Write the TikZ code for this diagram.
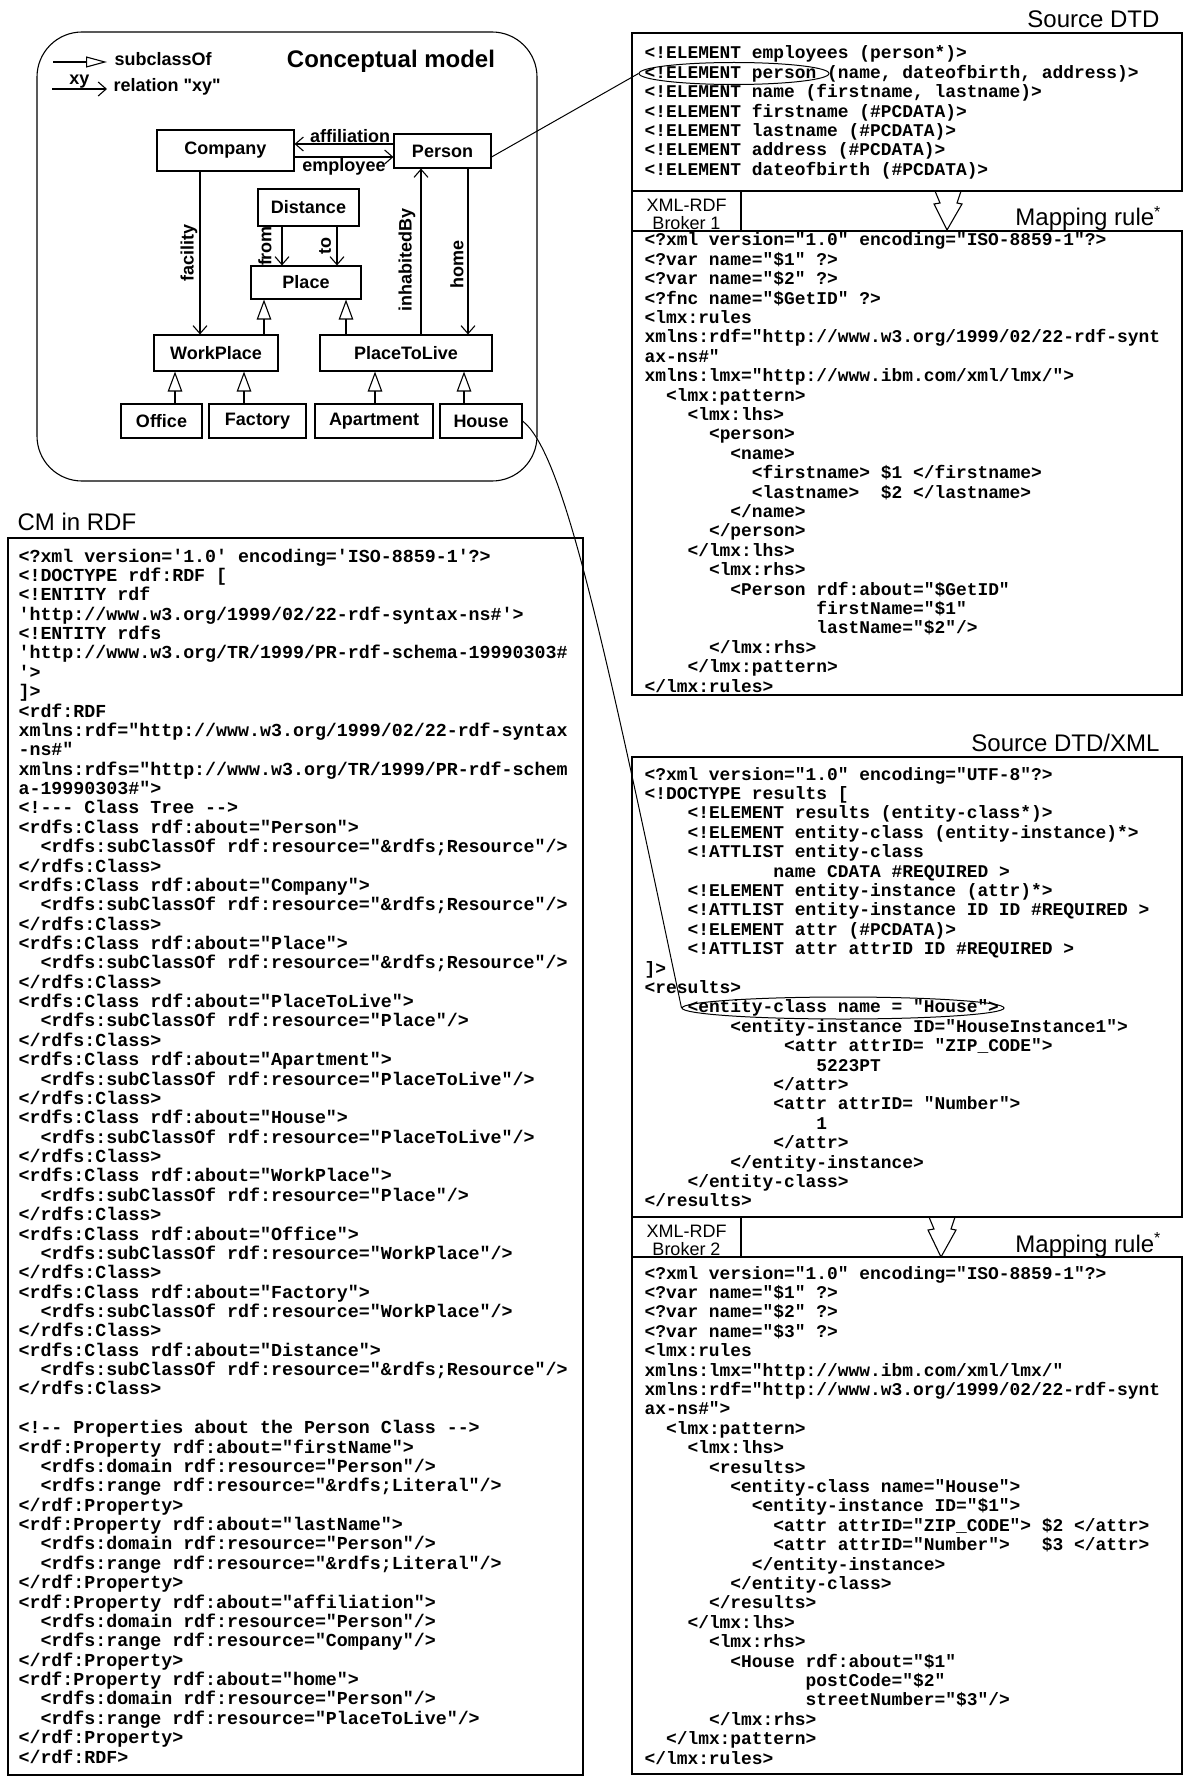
\documentclass[tikz,border=0pt]{standalone}
\usepackage{fontspec}
\setmainfont{Liberation Sans}
\newfontfamily\xmlfont{Liberation Mono}[Ligatures=TeXOff]
\usetikzlibrary{arrows.meta,shapes.geometric}
\newcommand{\ind}[1]{\hspace*{#1\fontdimen2\font}}

\begin{document}
\begin{tikzpicture}
[
  x=1pt, y=-1pt,
  line width=1.1pt,
	cls/.style={draw,inner sep=0,font=\bfseries\fontsize{18}{20}\selectfont},
	lbl/.style={inner sep=0,font=\bfseries\fontsize{18}{20}\selectfont},
	ttl/.style={inner sep=0,font=\fontsize{24}{28}\selectfont},
	code/.style={inner sep=0,align=left,anchor=base west,font=\xmlfont\bfseries\fontsize{17.9}{19.4}\selectfont},
	broker/.style={inner sep=0,align=center,font=\fontsize{18}{18}\selectfont},
	circ/.style={draw,ellipse,inner sep=0,line width=1pt},
	rel/.style={-{Straight Barb[length=8pt,width=14pt]}},
	sub/.style={-{Triangle[open,length=20pt,width=14.5pt]}}
]
\useasboundingbox (0,0) rectangle (1184,1787);

\draw[rounded corners=45] (37,32) rectangle (537,481);
\node[ttl,font=\bfseries\fontsize{24}{28}\selectfont] (cmtitle) at(391,61) {Conceptual model};

\coordinate (lgsubA) at (53,62);
\coordinate (lgsubB) at (107,62);
\coordinate (lgrelA) at (52,89);
\coordinate (lgrelB) at (107,89);
\draw[-{Triangle[open,length=21pt,width=11pt]}] (lgsubA) -- (lgsubB);
\node[lbl,anchor=west] (lgsub) at(114,59) {subclassOf};
\draw[rel] (lgrelA) -- (lgrelB) node[lbl,midway,above=0pt] (lgxy) {xy};
\node[lbl,anchor=west] (lgrel) at(113,87) {relation \textquotedbl xy\textquotedbl};

\node[cls,minimum width=137,minimum height=41] (Company) at(225.5,150.5) {Company};
\node[cls,minimum width=97,minimum height=34] (Person) at(442.5,151) {Person};
\node[cls,minimum width=101,minimum height=37] (Distance) at(308.5,207.5) {Distance};
\node[cls,minimum width=110,minimum height=33] (Place) at(306,282.5) {Place};
\node[cls,minimum width=124,minimum height=36] (WorkPlace) at(216,353) {WorkPlace};
\node[cls,minimum width=172,minimum height=36] (PlaceToLive) at(406,353) {PlaceToLive};
\node[cls,minimum width=81,minimum height=34] (Office) at(161.5,421) {Office};
\node[cls,minimum width=97,minimum height=34] (Factory) at(257.5,421) {Factory};
\node[cls,minimum width=118,minimum height=34] (Apartment) at(374,421) {Apartment};
\node[cls,minimum width=82,minimum height=34] (House) at(481,421) {House};

\draw[rel] ([yshift=7]Person.west) -- ([yshift=7]Person.west -| Company.east) node[lbl,midway,above=1pt,xshift=6] {affiliation};
\draw[rel] ([yshift=-6.5]Company.east) -- ([yshift=-6.5]Company.east -| Person.west) node[lbl,midway,below=1pt] {employee};
\draw[rel] ([xshift=-25.5]Company.south) -- ([xshift=-25.5]Company.south |- WorkPlace.north) node[lbl,midway,xshift=-11,rotate=90] {facility};
\draw[rel] ([xshift=-26.5]Distance.south) -- ([xshift=-26.5]Distance.south |- Place.north) node[lbl,midway,xshift=-17,rotate=90] {from};
\draw[rel] ([xshift=28.5]Distance.south) -- ([xshift=28.5]Distance.south |- Place.north) node[lbl,midway,xshift=-12,rotate=90] {to};
\draw[rel] ([xshift=15]PlaceToLive.north) -- ([xshift=15]PlaceToLive.north |- Person.south) node[lbl,pos=0.45,xshift=-14,rotate=90] {inhabitedBy};
\draw[rel] ([xshift=25.5]Person.south) -- ([xshift=25.5]Person.south |- PlaceToLive.north) node[lbl,pos=0.58,xshift=-11,rotate=90] {home};

\draw[sub] ([xshift=48]WorkPlace.north) -- ([xshift=48]WorkPlace.north |- Place.south);
\draw[sub] ([xshift=-60]PlaceToLive.north) -- ([xshift=-60]PlaceToLive.north |- Place.south);
\draw[sub] ([xshift=13.5]Office.north) -- ([xshift=13.5]Office.north |- WorkPlace.south);
\draw[sub] ([xshift=-13.5]Factory.north) -- ([xshift=-13.5]Factory.north |- WorkPlace.south);
\draw[sub] ([xshift=1]Apartment.north) -- ([xshift=1]Apartment.north |- PlaceToLive.south);
\draw[sub] ([xshift=-17]House.north) -- ([xshift=-17]House.north |- PlaceToLive.south);


\node[ttl,anchor=east] (dtdtitle) at(1160,19) {Source DTD};
\draw (632,33) rectangle (1182,191);
\node[code] (dtd) at(644,175.4) {<!ELEMENT employees (person*)>\\
<!ELEMENT person (name, dateofbirth, address)>\\
<!ELEMENT name (firstname, lastname)>\\
<!ELEMENT firstname (\#PCDATA)>\\
<!ELEMENT lastname (\#PCDATA)>\\
<!ELEMENT address (\#PCDATA)>\\
<!ELEMENT dateofbirth (\#PCDATA)>};
\node[circ,minimum width=190,minimum height=22] (elPerson) at(734,73.5) {};

\draw (632,191) rectangle (741,231);
\node[broker] (broker1) at(686.5,214) {XML-RDF\\Broker 1};
\draw (935,191) -- (940,203) -- (934,204) -- (947,230) -- (962,204) -- (957,203) -- (961,191);
\node[ttl,anchor=base east] (rule1) at(1161,226) {Mapping rule\raisebox{9pt}{\fontsize{16}{16}\selectfont *}};

\draw (632,231) rectangle (1182,695);
\node[code] (map1) at(644,692) {<?xml version="1.0" encoding="ISO-8859-1"?>\\
<?var name="\$1" ?>\\
<?var name="\$2" ?>\\
<?fnc name="\$GetID" ?>\\
<lmx:rules\\
xmlns:rdf="http://www.w3.org/1999/02/22-rdf-synt\\
ax-ns\#"\\
xmlns:lmx="http://www.ibm.com/xml/lmx/">\\
\ind{2}<lmx:pattern>\\
\ind{4}<lmx:lhs>\\
\ind{6}<person>\\
\ind{8}<name>\\
\ind{10}<firstname> \$1 </firstname>\\
\ind{10}<lastname>\ind{2}\$2 </lastname>\\
\ind{8}</name>\\
\ind{6}</person>\\
\ind{4}</lmx:lhs>\\
\ind{6}<lmx:rhs>\\
\ind{8}<Person rdf:about="\$GetID"\\
\ind{16}firstName="\$1"\\
\ind{16}lastName="\$2"/>\\
\ind{6}</lmx:rhs>\\
\ind{4}</lmx:pattern>\\
</lmx:rules>};


\node[ttl,anchor=east] (xmltitle) at(1160,743) {Source DTD/XML};
\draw (632,757) rectangle (1182,1217);
\node[code] (xml) at(644,1206.8) {<?xml version="1.0" encoding="UTF-8"?>\\
<!DOCTYPE results [\\
\ind{4}<!ELEMENT results (entity-class*)>\\
\ind{4}<!ELEMENT entity-class (entity-instance)*>\\
\ind{4}<!ATTLIST entity-class\\
\ind{12}name CDATA \#REQUIRED >\\
\ind{4}<!ELEMENT entity-instance (attr)*>\\
\ind{4}<!ATTLIST entity-instance ID ID \#REQUIRED >\\
\ind{4}<!ELEMENT attr (\#PCDATA)>\\
\ind{4}<!ATTLIST attr attrID ID \#REQUIRED >\\
]>\\
<results>\\
\ind{4}<entity-class name = "House">\\
\ind{8}<entity-instance ID="HouseInstance1">\\
\ind{13}<attr attrID= "ZIP\_CODE">\\
\ind{16}5223PT\\
\ind{12}</attr>\\
\ind{12}<attr attrID= "Number">\\
\ind{16}1\\
\ind{12}</attr>\\
\ind{8}</entity-instance>\\
\ind{4}</entity-class>\\
</results>};
\node[circ,minimum width=322,minimum height=22] (elHouse) at(843,1008) {};

\draw (632,1217) rectangle (741,1257);
\node[broker] (broker2) at(686.5,1240) {XML-RDF\\Broker 2};
\draw (929,1217) -- (934,1229) -- (928,1230) -- (941,1257) -- (956,1230) -- (951,1229) -- (955,1217);
\node[ttl,anchor=base east] (rule2) at(1161,1252) {Mapping rule\raisebox{9pt}{\fontsize{16}{16}\selectfont *}};

\draw (632,1257) rectangle (1182,1774);
\node[code] (map2) at(644,1764) {<?xml version="1.0" encoding="ISO-8859-1"?>\\
<?var name="\$1" ?>\\
<?var name="\$2" ?>\\
<?var name="\$3" ?>\\
<lmx:rules\\
xmlns:lmx="http://www.ibm.com/xml/lmx/"\\
xmlns:rdf="http://www.w3.org/1999/02/22-rdf-synt\\
ax-ns\#">\\
\ind{2}<lmx:pattern>\\
\ind{4}<lmx:lhs>\\
\ind{6}<results>\\
\ind{8}<entity-class name="House">\\
\ind{10}<entity-instance ID="\$1">\\
\ind{12}<attr attrID="ZIP\_CODE"> \$2 </attr>\\
\ind{12}<attr attrID="Number">\ind{3}\$3 </attr>\\
\ind{10}</entity-instance>\\
\ind{8}</entity-class>\\
\ind{6}</results>\\
\ind{4}</lmx:lhs>\\
\ind{6}<lmx:rhs>\\
\ind{8}<House rdf:about="\$1"\\
\ind{15}postCode="\$2"\\
\ind{15}streetNumber="\$3"/>\\
\ind{6}</lmx:rhs>\\
\ind{2}</lmx:pattern>\\
</lmx:rules>};


\node[ttl,anchor=west] (rdftitle) at(17,522) {CM in RDF};
\draw (8,538) rectangle (583,1775);
\node[code,font=\xmlfont\bfseries\fontsize{18.3}{19.37}\selectfont] (rdf) at(18,1763) {<?xml version='1.0' encoding='ISO-8859-1'?>\\
<!DOCTYPE rdf:RDF [\\
<!ENTITY rdf\\
'http://www.w3.org/1999/02/22-rdf-syntax-ns\#'>\\
<!ENTITY rdfs\\
'http://www.w3.org/TR/1999/PR-rdf-schema-19990303\#\\
'>\\
]>\\
<rdf:RDF\\
xmlns:rdf="http://www.w3.org/1999/02/22-rdf-syntax\\
-ns\#"\\
xmlns:rdfs="http://www.w3.org/TR/1999/PR-rdf-schem\\
a-19990303\#">\\
<!--- Class Tree -->\\
<rdfs:Class rdf:about="Person">\\
\ind{2}<rdfs:subClassOf rdf:resource="\&rdfs;Resource"/>\\
</rdfs:Class>\\
<rdfs:Class rdf:about="Company">\\
\ind{2}<rdfs:subClassOf rdf:resource="\&rdfs;Resource"/>\\
</rdfs:Class>\\
<rdfs:Class rdf:about="Place">\\
\ind{2}<rdfs:subClassOf rdf:resource="\&rdfs;Resource"/>\\
</rdfs:Class>\\
<rdfs:Class rdf:about="PlaceToLive">\\
\ind{2}<rdfs:subClassOf rdf:resource="Place"/>\\
</rdfs:Class>\\
<rdfs:Class rdf:about="Apartment">\\
\ind{2}<rdfs:subClassOf rdf:resource="PlaceToLive"/>\\
</rdfs:Class>\\
<rdfs:Class rdf:about="House">\\
\ind{2}<rdfs:subClassOf rdf:resource="PlaceToLive"/>\\
</rdfs:Class>\\
<rdfs:Class rdf:about="WorkPlace">\\
\ind{2}<rdfs:subClassOf rdf:resource="Place"/>\\
</rdfs:Class>\\
<rdfs:Class rdf:about="Office">\\
\ind{2}<rdfs:subClassOf rdf:resource="WorkPlace"/>\\
</rdfs:Class>\\
<rdfs:Class rdf:about="Factory">\\
\ind{2}<rdfs:subClassOf rdf:resource="WorkPlace"/>\\
</rdfs:Class>\\
<rdfs:Class rdf:about="Distance">\\
\ind{2}<rdfs:subClassOf rdf:resource="\&rdfs;Resource"/>\\
</rdfs:Class>\\
\mbox{}\\
<!-- Properties about the Person Class -->\\
<rdf:Property rdf:about="firstName">\\
\ind{2}<rdfs:domain rdf:resource="Person"/>\\
\ind{2}<rdfs:range rdf:resource="\&rdfs;Literal"/>\\
</rdf:Property>\\
<rdf:Property rdf:about="lastName">\\
\ind{2}<rdfs:domain rdf:resource="Person"/>\\
\ind{2}<rdfs:range rdf:resource="\&rdfs;Literal"/>\\
</rdf:Property>\\
<rdf:Property rdf:about="affiliation">\\
\ind{2}<rdfs:domain rdf:resource="Person"/>\\
\ind{2}<rdfs:range rdf:resource="Company"/>\\
</rdf:Property>\\
<rdf:Property rdf:about="home">\\
\ind{2}<rdfs:domain rdf:resource="Person"/>\\
\ind{2}<rdfs:range rdf:resource="PlaceToLive"/>\\
</rdf:Property>\\
</rdf:RDF>};


\draw[line width=1pt] ([yshift=-6]Person.east) -- (elPerson.west);
\draw[line width=1pt] (House.east) .. controls (562,452) and (600,620) .. (elHouse.west);
\end{tikzpicture}
\end{document}
